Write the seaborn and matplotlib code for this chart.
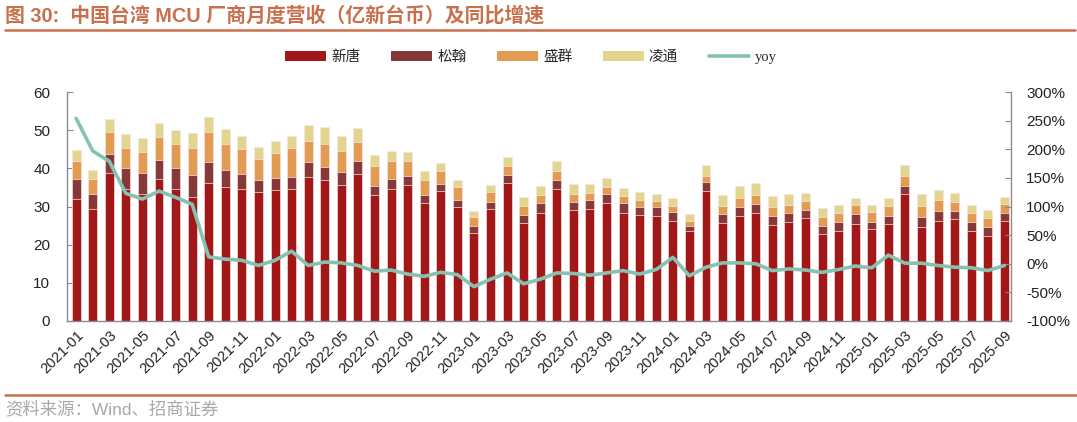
import numpy as np
import pandas as pd
import matplotlib
matplotlib.use("Agg")
import matplotlib.pyplot as plt
import seaborn as sns
from matplotlib.patches import Patch
from matplotlib.lines import Line2D
from matplotlib.ticker import FuncFormatter, FixedLocator

# ---------------- data ----------------
months = pd.period_range("2021-01", "2025-09", freq="M").strftime("%Y-%m").tolist()

nuvoton = [31.9, 29.4, 38.8, 34.5, 33.4, 37.3, 34.7, 32.4, 36.2, 35.0, 34.7, 33.7, 34.2, 34.7,
           37.8, 36.9, 35.6, 38.6, 33.0, 34.6, 35.6, 31.0, 34.1, 29.8, 23.1, 29.4, 36.2, 25.7,
           28.4, 34.6, 29.0, 29.3, 30.8, 28.4, 27.9, 27.6, 26.2, 23.5, 34.1, 25.7, 27.6, 28.3,
           25.2, 26.0, 26.9, 22.9, 23.6, 25.5, 24.2, 25.5, 33.2, 24.6, 26.3, 26.6, 23.5, 22.4, 26.2]
sonix = [5.2, 3.8, 4.9, 5.7, 5.3, 5.0, 5.3, 5.8, 5.5, 4.5, 3.8, 3.3, 3.2, 3.1,
         3.8, 3.4, 3.4, 3.4, 2.5, 2.6, 2.4, 1.9, 1.9, 1.8, 1.7, 1.9, 2.0, 2.1,
         2.4, 2.4, 2.2, 2.3, 2.4, 2.5, 2.1, 2.2, 2.3, 1.5, 2.3, 2.4, 2.3, 2.4,
         2.3, 2.3, 2.1, 2.1, 2.4, 2.5, 1.8, 2.1, 2.2, 2.6, 2.4, 2.2, 2.4, 2.2, 2.0]
holtek = [4.9, 4.0, 5.9, 5.2, 5.6, 6.0, 6.3, 7.2, 7.8, 6.8, 6.5, 5.4, 6.6, 7.4,
          5.6, 6.2, 5.5, 5.0, 5.0, 4.7, 3.8, 4.1, 3.4, 3.5, 2.5, 2.5, 2.4, 2.4,
          2.2, 2.4, 2.2, 2.0, 2.0, 1.8, 1.7, 1.7, 1.6, 1.1, 1.7, 2.0, 2.4, 2.4,
          2.4, 2.1, 2.4, 2.3, 2.3, 2.3, 2.6, 2.5, 2.7, 2.9, 2.9, 2.5, 2.5, 2.5, 2.4]
generalplus = [2.8, 2.4, 3.3, 3.5, 3.6, 3.7, 3.7, 3.9, 3.9, 3.9, 3.4, 3.2, 3.2, 3.3,
               4.1, 4.2, 3.9, 3.6, 2.9, 2.7, 2.6, 2.4, 2.0, 1.9, 1.6, 1.9, 2.5, 2.4,
               2.5, 2.5, 2.4, 2.4, 2.2, 2.2, 2.0, 1.9, 2.1, 1.9, 2.8, 3.0, 3.0, 3.1,
               2.9, 2.8, 2.2, 2.3, 2.0, 2.0, 1.8, 2.2, 2.9, 3.1, 2.6, 2.3, 2.1, 1.9, 2.0]
yoy = [254, 197, 179, 123, 113, 127, 116, 104, 12, 8, 6, -3, 6, 22,
       -3, 3, 1.5, -3, -13, -11, -18, -22, -15, -19, -40, -27, -16, -35,
       -27, -16, -17, -20, -16, -12, -18, -10, 11, -21, -6, 1.5, 1.5, 0,
       -12, -9, -11, -15, -10, -4, -7, 15, 1, 1, -3, -6, -7, -12, -3]

series_names = ["新唐", "松翰", "盛群", "凌通"]
line_name = "yoy"
title = "图 30:  中国台湾 MCU 厂商月度营收（亿新台币）及同比增速"
source = "资料来源：Wind、招商证券"

# ---------------- style ----------------
sns.set_theme(style="white")
plt.rcParams["font.family"] = ["Liberation Sans", "Noto Sans CJK SC", "DejaVu Sans"]

colors = ["#A21818", "#87393A", "#E39B52", "#E2D58E"]
line_color = "#86C2B2"
accent = "#C8704E"
spine_color = "#8C8C8C"

W, H = 1077, 422
fig = plt.figure(figsize=(W / 100, H / 100), dpi=100)
ax = fig.add_axes([67 / W, 1 - 321 / H, (1011 - 67) / W, (321 - 92) / H])

df = pd.DataFrame({"month": months, "a": nuvoton, "b": sonix, "c": holtek, "d": generalplus})
cum = np.cumsum(df[["a", "b", "c", "d"]].values, axis=1)

# stacked bars: draw cumulative totals from largest to smallest
for k in range(3, -1, -1):
    sns.barplot(x=df["month"], y=cum[:, k], color=colors[k], saturation=1,
                width=0.54, edgecolor="#F6E6E6", linewidth=0.5, ax=ax, zorder=2)

n = len(months)
ax.set_xlim(-0.55, n - 0.6)
ax.set_ylim(0, 60)
ax.set_yticks(range(0, 61, 10))
ax.set_xlabel("")
ax.set_ylabel("")

ax2 = ax.twinx()
sns.lineplot(x=np.arange(n), y=yoy, ax=ax2, color=line_color, linewidth=2.6, zorder=5)
ax2.set_ylim(-100, 300)
ax2.set_yticks(range(-100, 301, 50))
ax2.yaxis.set_major_formatter(FuncFormatter(lambda v, p: f"{int(v)}%"))
ax2.set_xlim(-0.55, n - 0.6)
ax2.set_ylabel("")

# x ticks
ax.set_xticks(np.arange(0, n, 2))
ax.set_xticklabels([months[i] for i in range(0, n, 2)], rotation=45, ha="right",
                   rotation_mode="anchor", fontsize=10.5)
ax.xaxis.set_minor_locator(FixedLocator(np.arange(0, n, 2) - 0.5))
ax.tick_params(axis="x", which="major", length=0, pad=5)
ax.tick_params(axis="x", which="minor", length=4, direction="in", color=spine_color, width=0.8)
ax.tick_params(axis="y", which="major", length=4, direction="in", color=spine_color,
               width=0.8, labelsize=11, pad=12)
ax2.tick_params(axis="y", which="major", length=4, direction="in", color=spine_color,
                width=0.8, labelsize=11, pad=11)

for a in (ax, ax2):
    a.spines["top"].set_visible(False)
    for s in ("left", "right", "bottom"):
        a.spines[s].set_color(spine_color)
        a.spines[s].set_linewidth(1.0)
ax.spines["right"].set_visible(False)
ax2.spines["left"].set_visible(False)
ax2.spines["bottom"].set_visible(False)
for lab in ax.get_yticklabels() + ax2.get_yticklabels() + ax.get_xticklabels():
    lab.set_color("#222222")

# legend
handles = [Patch(facecolor=c, edgecolor="none") for c in colors]
handles.append(Line2D([0], [0], color=line_color, lw=2.6))
leg = fig.legend(handles, series_names + [line_name], loc="center",
                 bbox_to_anchor=(531 / W, 1 - 57 / H), ncol=5, frameon=False,
                 fontsize=10.5, handlelength=2.8, handleheight=0.75, handletextpad=0.35,
                 columnspacing=2.1)
leg.get_texts()[-1].set_family(["Liberation Serif", "DejaVu Serif"])

# title, rules and source
fig.text(5 / W, 1 - 16 / H, title, fontsize=14.3, fontweight="bold", color=accent,
         va="center", ha="left")
fig.add_artist(Line2D([5 / W, 1075 / W], [1 - 29.5 / H] * 2, color=accent, lw=1.8))
fig.add_artist(Line2D([5 / W, 1077 / W], [1 - 394.5 / H] * 2, color=accent, lw=1.8))
fig.text(5 / W, 1 - 409 / H, source, fontsize=12.5, color="#A8A8A8", va="center", ha="left")

fig.savefig("out.png", dpi=100)
